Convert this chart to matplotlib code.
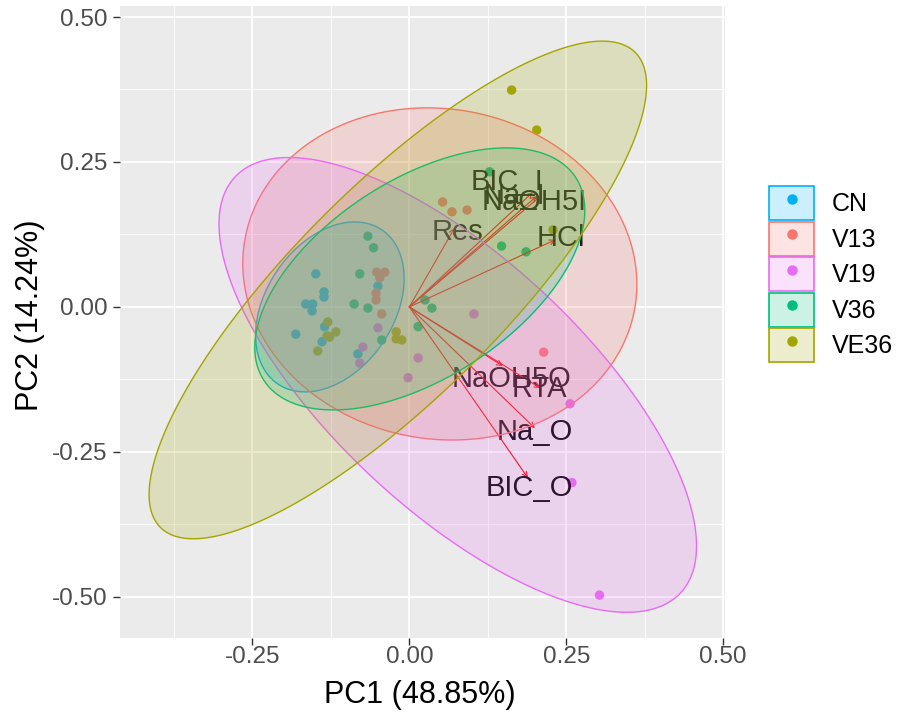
import numpy as np
import matplotlib
matplotlib.use("Agg")
import matplotlib.pyplot as plt
from matplotlib.patches import Patch
from matplotlib.lines import Line2D
from matplotlib.colors import to_rgba

plt.rcParams['font.family'] = ['Liberation Sans', 'DejaVu Sans']

# groups and colours
groups = ["CN", "V13", "V19", "V36", "VE36"]
colors = ["#00B0F6", "#F8766D", "#E76BF3", "#00BF7D", "#A3A500"]

# individual scores (PC1, PC2) per group
cn_x = [-0.149, -0.136, -0.136, -0.165, -0.154, -0.155, -0.181, -0.135, -0.139, -0.082, -0.050]
cn_y = [0.057, 0.026, 0.017, 0.005, 0.005, -0.007, -0.047, -0.034, -0.060, -0.081, 0.036]
v13_x = [0.053, 0.068, 0.092, 0.214, -0.052, -0.039, -0.047, -0.053, -0.053, -0.044]
v13_y = [0.181, 0.164, 0.167, -0.078, 0.060, 0.060, 0.050, 0.024, 0.012, -0.012]
v19_x = [0.256, 0.259, 0.303, 0.103, 0.014, -0.002, -0.050, -0.074, -0.079]
v19_y = [-0.167, -0.303, -0.497, -0.012, -0.088, -0.122, -0.036, -0.069, -0.097]
v36_x = [0.128, 0.147, 0.186, -0.066, -0.057, -0.079, -0.088, -0.066, -0.044, 0.014, 0.025, 0.036]
v36_y = [0.233, 0.105, 0.095, 0.122, 0.102, 0.057, 0.005, -0.002, -0.057, -0.034, 0.012, -0.002]
ve36_x = [0.163, 0.203, 0.229, -0.130, -0.131, -0.117, -0.127, -0.021, -0.012, -0.021, -0.146]
ve36_y = [0.374, 0.305, 0.133, -0.026, -0.050, -0.043, -0.052, -0.043, -0.057, -0.055, -0.076]
scores_x = [cn_x, v13_x, v19_x, v36_x, ve36_x]
scores_y = [cn_y, v13_y, v19_y, v36_y, ve36_y]

# concentration ellipses: centre and two conjugate semi-axis vectors
ell_cx = [-0.1266, 0.0486, 0.0772, 0.0167, -0.0183]
ell_cy = [0.0, 0.0569, -0.1345, 0.0483, 0.0293]
ell_ux = [0.0828, 0.3106, 0.3550, 0.2485, 0.3783]
ell_uy = [0.1329, -0.0594, -0.3586, 0.1748, 0.4096]
ell_vx = [-0.0845, 0.0457, 0.1368, -0.0859, -0.1182]
ell_vy = [0.0617, 0.2802, 0.1588, 0.1432, 0.1280]

# variable loadings (arrow tips)
var_names = ["BIC_I", "Na_I", "NaOH5I", "Res", "HCl", "NaOH5O", "RTA", "Na_O", "BIC_O"]
var_x = [0.197, 0.203, 0.208, 0.072, 0.233, 0.149, 0.209, 0.200, 0.189]
var_y = [0.198, 0.191, 0.190, 0.136, 0.116, -0.102, -0.140, -0.209, -0.295]
# label nudges in points
lab_dx = [-19, -16, -4, 2, 4, 6, -1, 0, 1]
lab_dy = [7, 0, -4, -3, 1, -9, -1, -3, -7]

fig = plt.figure(figsize=(8.98, 7.19), dpi=100)
ax = fig.add_axes([120 / 898, 1 - 638 / 719, 605 / 898, 632 / 719])
ax.set_facecolor('#EBEBEB')
for s in ax.spines.values():
    s.set_visible(False)

ax.set_xlim(-0.461, 0.503)
ax.set_ylim(-0.571, 0.519)
major = [-0.5, -0.25, 0.0, 0.25, 0.5]
minor = [-0.375, -0.125, 0.125, 0.375]
ax.set_xticks([-0.25, 0.0, 0.25, 0.5])
ax.set_yticks(major)
ax.set_xticks(minor, minor=True)
ax.set_yticks(minor, minor=True)
ax.set_xticklabels(["-0.25", "0.00", "0.25", "0.50"])
ax.set_yticklabels(["-0.50", "-0.25", "0.00", "0.25", "0.50"])
ax.grid(which='major', color='white', lw=1.3, zorder=0)
ax.grid(which='minor', color='white', lw=0.6, zorder=0)
ax.set_axisbelow(True)
ax.tick_params(which='major', length=5, width=1, color='#333333',
               labelsize=17.5, labelcolor='#4D4D4D', pad=4)
ax.tick_params(axis='x', which='major', pad=0.5)
ax.tick_params(which='minor', length=0)

# points
for gx, gy, c in zip(scores_x, scores_y, colors):
    ax.scatter(gx, gy, s=46, color=c, edgecolors='none', zorder=2)

# arrows and labels
for name, x, y, dx, dy in zip(var_names, var_x, var_y, lab_dx, lab_dy):
    ax.annotate('', xy=(x, y), xytext=(0, 0),
                arrowprops=dict(arrowstyle='->', color='red', lw=0.8,
                                mutation_scale=9, shrinkA=0, shrinkB=0),
                zorder=3)
    ax.annotate(name, xy=(x, y), xytext=(dx, dy), textcoords='offset points',
                ha='center', va='center', fontsize=21, color='black', zorder=3)

# ellipses on top
t = np.linspace(0, 2 * np.pi, 300)
for i, c in enumerate(colors):
    ex = ell_cx[i] + ell_ux[i] * np.cos(t) + ell_vx[i] * np.sin(t)
    ey = ell_cy[i] + ell_uy[i] * np.cos(t) + ell_vy[i] * np.sin(t)
    ax.fill(ex, ey, facecolor=to_rgba(c, 0.2), edgecolor=c, lw=1.0, zorder=4)

# axis titles
fig.text(420 / 898, 1 - 695 / 719, "PC1 (48.85%)", fontsize=22, ha='center', va='center')
fig.text(30 / 898, 1 - 315 / 719, "PC2 (14.24%)", fontsize=22, ha='center', va='center',
         rotation=90)

handles = [(Patch(facecolor=to_rgba(c, 0.2), edgecolor=c, lw=1.2),
            Line2D([], [], ls='none', marker='o', ms=6.5, color=c)) for c in colors]
fig.legend(handles, groups, loc='upper left', bbox_to_anchor=(769 / 898, 1 - 186 / 719),
           frameon=False, fontsize=18, handlelength=1.8, handleheight=1.72,
           labelspacing=0.06, handletextpad=0.7, borderpad=0, borderaxespad=0)

fig.savefig('out.png', dpi=100)
